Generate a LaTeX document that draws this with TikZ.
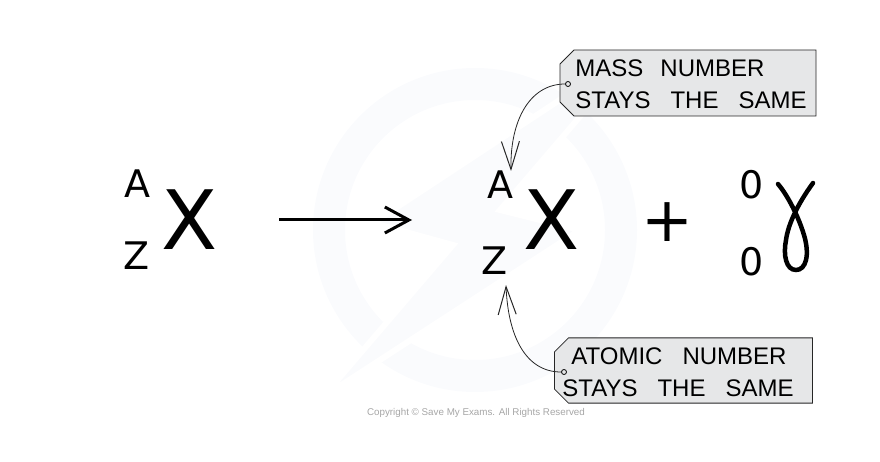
\documentclass[tikz,border=0pt]{standalone}
\usepackage{fontspec}
\setmainfont{Liberation Sans}
\newfontfamily\symbolfont{DejaVu Sans}
\usetikzlibrary{shapes.misc,arrows.meta}

\definecolor{tagfill}{HTML}{E6E7E8}
\definecolor{markfill}{HTML}{FAFBFD}
\newcommand{\wordgap}{\hspace{20pt}}
\tikzset{
    symbol/.style={inner sep=0pt,font=\symbolfont\fontsize{38}{38}\selectfont},
    bigsymbol/.style={inner sep=0pt,font=\symbolfont\fontsize{82}{82}\selectfont},
    plussign/.style={inner sep=0pt,font=\symbolfont\fontsize{62}{62}\selectfont},
    tag/.style={draw=black!85,thick,fill=tagfill,chamfered rectangle,chamfered rectangle corners={north west,south west},chamfered rectangle xsep=8pt,chamfered rectangle ysep=6pt,inner sep=0pt,font=\fontsize{24}{32}\selectfont,align=left},
    hole/.style={circle,draw=black,thick,inner sep=0pt,minimum size=5pt},
    pointer/.style={draw=black!85,thick,-{Straight Barb[length=28pt,width=18pt,line width=1pt]}}
}

\begin{document}
\begin{tikzpicture}[x=1pt,y=-1pt]
    \useasboundingbox (0,0) rectangle (880,462);

    % watermark
    \fill[markfill,even odd rule] (475,230) circle (162) (475,230) circle (130);
    \fill[markfill,draw=white,line width=6pt] (590,80) -- (373,223) -- (453,245) -- (323,397) -- (580,230) -- (500,210) -- (583,113) -- cycle;

    % left side
    \node[symbol] (a1) at (137,184) {A};
    \node[symbol] (z1) at (137,256) {Z};
    \node[bigsymbol] (x1) at (190,220) {X};
    \coordinate (arrowstart) at (279,220);
    \coordinate (arrowend) at (412,220);
    \draw[line width=3pt,-{Straight Barb[length=24pt,width=26pt,line width=3pt]}] (arrowstart) -- (arrowend);

    % right side
    \node[symbol] (a2) at (500,185) {A};
    \node[symbol] (z2) at (495,261) {Z};
    \node[bigsymbol] (x2) at (552,220) {X};
    \node[plussign] (plus) at (667,222) {+};
    \node[symbol] (n1) at (752,185) {0};
    \node[symbol] (n2) at (752,262) {0};
    \draw[line width=4.5pt,line cap=round] (778,184) .. controls (785,192) and (797,212) .. (804,235) .. controls (810,255) and (806,270) .. (796,270) .. controls (786,270) and (783,255) .. (786,240) .. controls (788,225) and (797,205) .. (813,183);

    % labels
    \node[tag,minimum width=256pt,minimum height=66pt] (masstag) at (688,83) {\rule{0pt}{19pt}\hspace*{6pt}MASS\hspace{17pt}NUMBER\\\hspace*{6pt}STAYS\wordgap THE\wordgap SAME};
    \node[tag,minimum width=255pt,minimum height=65pt] (atomictag) at (683.5,370.5) {\rule{0pt}{21pt}\hspace*{9pt}ATOMIC\wordgap NUMBER\\STAYS\wordgap THE\wordgap SAME\hspace*{11pt}};
    \node[hole] (masshole) at (568,84) {};
    \node[hole] (atomichole) at (564,372) {};
    \coordinate (masstip) at (511,171);
    \coordinate (atomictip) at (506,285);
    \draw[pointer] (masshole) .. controls (530,84) and (510,120) .. (masstip);
    \draw[pointer] (atomichole) .. controls (525,372) and (508,335) .. (atomictip);

    \node[text=black!35,font=\fontsize{9.8}{10}\selectfont] (copyright) at (476,413) {Copyright © Save My Exams. All Rights Reserved};
\end{tikzpicture}
\end{document}
